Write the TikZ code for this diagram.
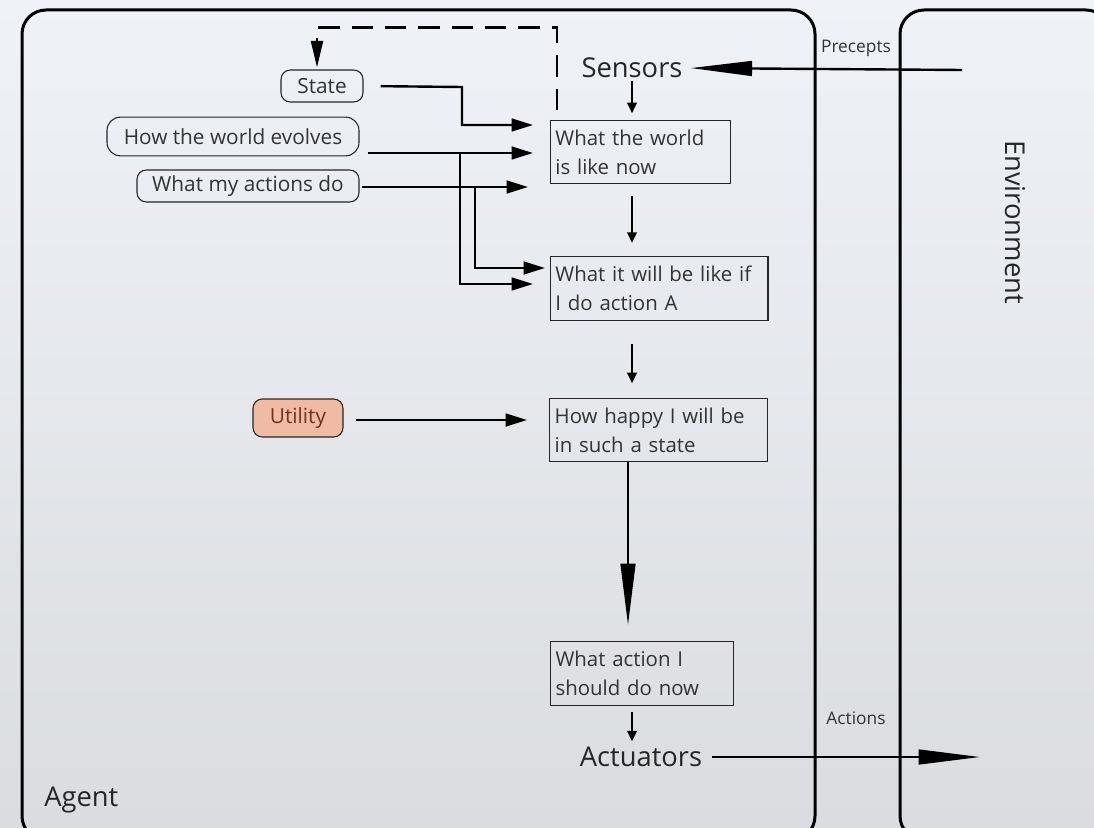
\documentclass[tikz,border=0pt]{standalone}
\usepackage{fontspec}
\setmainfont{Open Sans}
\usetikzlibrary{arrows.meta,calc}
\begin{document}
\begin{tikzpicture}[x=0.75pt,y=-0.75pt,
  frame/.style={line width=2.25pt, rounded corners=18pt},
  box/.style={draw=black!85, line width=1.1pt, anchor=north west, inner xsep=3.5pt, inner ysep=2pt, align=left, font=\fontsize{15.3}{21.75}\selectfont, text=black!80},
  pill/.style={draw=black!85, line width=0.8pt, rounded corners=7pt, inner sep=0pt, font=\fontsize{15.6}{18}\selectfont, text=black!80},
  conn/.style={line width=1.8pt},
  arr/.style={conn, -{Triangle[length=16pt,width=9.5pt]}},
  darr/.style={conn, -{Triangle[length=8pt,width=7pt]}},
  bigarr/.style={conn, -{Triangle[length=46pt,width=11pt]}},
  big/.style={font=\fontsize{20.5}{24}\selectfont, text=black!85, inner sep=0pt},
  small/.style={font=\fontsize{13}{15}\selectfont, text=black!80, inner sep=0pt}
]
\useasboundingbox (0,0) rectangle (1094,827);
\shade[top color={rgb,255:red,239;green,242;blue,247}, bottom color={rgb,255:red,218;green,220;blue,223}] (0,0) rectangle (1094,827);

% frames
\draw[frame] (22,10) rectangle (815,840);
\draw[frame] (900,10) rectangle (1110,840);

% labels
\node[big] (sensors) at (632,68) {Sensors};
\node[big] (actuators) at (641,757) {Actuators};
\node[small] (precepts) at (856,48) {Precepts};
\node[small] (actionslbl) at (856,718) {Actions};
\node[big, rotate=-90] (env) at (1015,222) {Environment};
\node[big, anchor=west] (agent) at (44,800) {Agent};

% main boxes
\node[box, minimum width=135pt, minimum height=47.25pt, text width=128pt] (wnow) at (550,120) {What the world\\is like now};
\node[box, minimum width=162.75pt, minimum height=48pt, text width=156pt] (wif) at (550,256) {What it will be like if\\I do action A};
\node[box, minimum width=163.5pt, minimum height=47.25pt, text width=156pt] (happy) at (549,398) {How happy I will be\\in such a state};
\node[box, minimum width=137.25pt, minimum height=48pt, text width=130pt] (act) at (550,641) {What action I\\should do now};

% left nodes
\node[pill, minimum width=61.5pt, minimum height=24pt] (state) at (322,86) {State};
\node[pill, rounded corners=10pt, minimum width=189pt, minimum height=29pt] (evolves) at (233,136.5) {How the world evolves};
\node[pill, minimum width=166.5pt, minimum height=24pt] (actionsdo) at (248,186) {What my actions do};
\node[pill, fill={rgb,255:red,240;green,187;blue,164}, minimum width=67.5pt, minimum height=28.5pt, text={rgb,255:red,110;green,50;blue,30}] (utility) at (298,418) {Utility};

% free ends
\coordinate (pstart) at (962,70);
\coordinate (aend) at (980,757);

% vertical chain
\draw[darr, shorten <=2pt, shorten >=5pt] (sensors.south) -- (sensors.south |- wnow.north);
\draw[darr, shorten <=9pt, shorten >=9.75pt] (sensors |- wnow.south) -- (sensors |- wif.north);
\draw[darr, shorten <=17pt, shorten >=11pt] (sensors |- wif.south) -- (sensors |- happy.north);
\draw[bigarr, shorten >=12pt] ([xshift=-3pt]sensors |- happy.south) -- ([xshift=-3pt]sensors |- act.north);
\draw[darr, shorten <=4pt, shorten >=4pt] (sensors |- act.south) -- (sensors |- actuators.north);

% precepts / actions
\draw[bigarr, shorten >=6pt] (pstart) -- (sensors.east);
\draw[bigarr, shorten <=7pt] (actuators.east) -- (aend);

% inputs
\draw[arr, shorten <=12.75pt, shorten >=12.75pt] (state.east) -- (462,87) |- (wnow.west |- 0,125);
\draw[arr, shorten <=6pt, shorten >=12.75pt] (evolves.east |- 0,153) -- (wnow.west |- 0,153);
\draw[arr, shorten >=12.75pt] (460,153) |- (wif.west |- 0,284);
\draw[arr, shorten <=2pt, shorten >=16.5pt] (actionsdo.east |- 0,187) -- (wnow.west |- 0,187);
\draw[arr, shorten >=3.75pt] (475,187) |- (wif.west |- 0,268);
\draw[arr, shorten <=9pt, shorten >=16.5pt] (utility.east |- 0,420) -- (happy.west |- 0,420);

% dashed feedback
\draw[conn, dash pattern=on 16pt off 9pt, -{Triangle[length=20pt,width=9pt]}, shorten >=1.5pt] ([xshift=5.25pt,yshift=7.5pt]wnow.north west) |- ([xshift=-3.75pt,yshift=31.5pt]state.north) -- ([xshift=-3.75pt]state.north);
\end{tikzpicture}
\end{document}
